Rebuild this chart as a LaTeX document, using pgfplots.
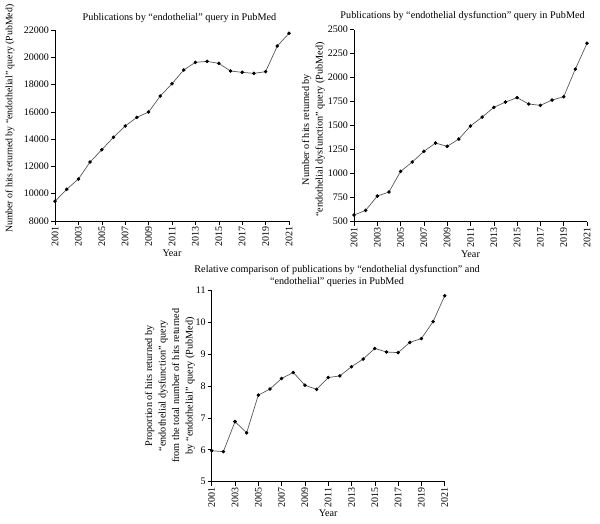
\documentclass[border=0pt]{standalone}
\usepackage{fontspec}
\setmainfont{Liberation Serif}
\usepackage{pgfplots}
\pgfplotsset{compat=1.18}
\pgfplotsset{
  every axis title shift=0pt,
  myax/.style={
    scale only axis, width=234pt, height=191pt,
    axis lines*=left, clip=false,
    xmin=2001, xmax=2021,
    xtick={2001,2003,...,2021},
    scaled y ticks=false,
    tick align=outside, major tick length=4pt,
    tick style={black, line width=0.5pt},
    axis line style={black, line width=0.6pt},
    /pgf/number format/assume math mode=true,
    /pgf/number format/1000 sep={},
    every tick label/.append style={font=\fontsize{10}{12}\selectfont},
    xticklabel style={rotate=90, anchor=east, inner sep=1.5pt},
    yticklabel style={inner sep=2pt},
    label style={font=\fontsize{10.2}{13.5}\selectfont},
    title style={font=\fontsize{10.2}{12.5}\selectfont, align=center, anchor=center},
    xlabel={Year},
    xlabel style={at={(axis description cs:0.5,-0.167)}, anchor=center},
  },
  myline/.style={color=black!65, line width=0.7pt, mark=*, mark size=1.4pt,
    mark options={black, fill=black}},
}
\begin{document}
\begin{tikzpicture}
\path[use as bounding box] (0,0) rectangle (600pt,524pt);
% Plot 1
\begin{axis}[myax, at={(55pt,303pt)}, anchor=south west,
  ymin=8000, ymax=22000, ytick={8000,10000,...,22000},
  title={Publications by “endothelial” query in PubMed},
  title style={at={(axis description cs:0.532,1.063)}},
  ylabel={Number of hits returned by “endothelial” query (PubMed)},
  ylabel style={at={(axis description cs:-0.192,0.535)}, anchor=center,
    font=\fontsize{9.8}{12}\selectfont}]
\addplot[myline] coordinates {
(2001,9441) (2002,10321) (2003,11078) (2004,12324) (2005,13228) (2006,14132)
(2007,14963) (2008,15598) (2009,15989) (2010,17161) (2011,18065) (2012,19067)
(2013,19629) (2014,19702) (2015,19555) (2016,18994) (2017,18896) (2018,18822)
(2019,18945) (2020,20826) (2021,21754)};
\end{axis}
% Plot 2
\begin{axis}[myax, at={(354pt,302.3pt)}, anchor=south west, width=233pt, height=192pt,
  ymin=500, ymax=2500, ytick={500,750,...,2500},
  title={Publications by “endothelial dysfunction” query in PubMed},
  title style={at={(axis description cs:0.466,1.073)}},
  ylabel={Number of hits returned by\\“endothelial dysfunction” query (PubMed)},
  ylabel style={at={(axis description cs:-0.174,0.48)}, anchor=center, align=center}]
\addplot[myline] coordinates {
(2001,569) (2002,618) (2003,767) (2004,809) (2005,1024) (2006,1122)
(2007,1233) (2008,1319) (2009,1285) (2010,1361) (2011,1497) (2012,1590)
(2013,1691) (2014,1746) (2015,1792) (2016,1726) (2017,1712) (2018,1767)
(2019,1802) (2020,2090) (2021,2358)};
\end{axis}
% Plot 3
\begin{axis}[myax, at={(211.7pt,42.3pt)}, anchor=south west, width=233pt, height=191.7pt,
  ymin=5, ymax=11, ytick={5,6,...,11},
  title={Relative comparison of publications by “endothelial dysfunction” and\\“endothelial” queries in PubMed},
  title style={at={(axis description cs:0.538,1.073)}},
  xlabel style={at={(axis description cs:0.5,-0.163)}},
  ylabel={Proportion of hits returned by\\“endothelial dysfunction” query\\from the total number of hits returned\\by “endothelial” query (PubMed)},
  ylabel style={at={(axis description cs:-0.179,0.5)}, anchor=center, align=center}]
\addplot[myline] coordinates {
(2001,5.97) (2002,5.94) (2003,6.88) (2004,6.53) (2005,7.71) (2006,7.90)
(2007,8.23) (2008,8.42) (2009,8.02) (2010,7.89) (2011,8.26) (2012,8.31)
(2013,8.60) (2014,8.84) (2015,9.17) (2016,9.06) (2017,9.04) (2018,9.36)
(2019,9.48) (2020,10.01) (2021,10.82)};
\end{axis}
\end{tikzpicture}
\end{document}
